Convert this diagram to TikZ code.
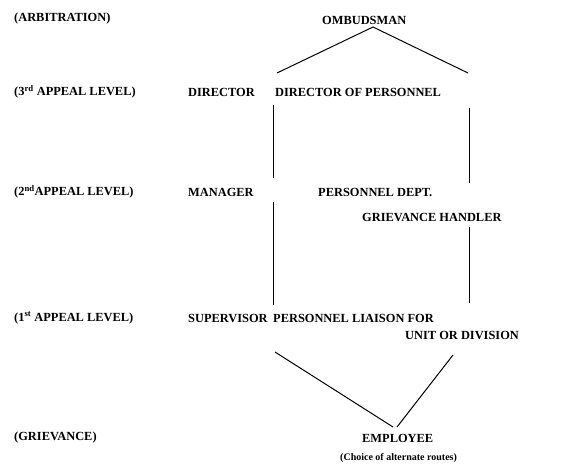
\documentclass[tikz,border=0pt]{standalone}
\usepackage{fontspec}
\setmainfont{Liberation Serif}
\usepackage{tikz}
\usetikzlibrary{positioning}

\begin{document}
\begin{tikzpicture}[x=1pt, y=-1pt,
    level/.style = {anchor=west, inner sep=0pt, font=\bfseries\fontsize{12.4}{14}\selectfont},
    main/.style = {anchor=west, inner sep=0pt, font=\bfseries\fontsize{12.4}{14}\selectfont},
    note/.style = {anchor=west, inner sep=0pt, font=\bfseries\fontsize{10}{12}\selectfont},
    link/.style = {line width=1pt}]
    \useasboundingbox (0,0) rectangle (572,470);

    % levels on the left
    \node[level] (arb) at (14,19) {(ARBITRATION)};
    \node[level] (l3) at (14,92) {(3\textsuperscript{rd} APPEAL LEVEL)};
    \node[level] (l2) at (14,192) {(2\textsuperscript{nd}APPEAL LEVEL)};
    \node[level] (l1) at (14,318) {(1\textsuperscript{st} APPEAL LEVEL)};
    \node[level] (griev) at (14,438) {(GRIEVANCE)};

    % line route
    \node[main] (ombud) at (322,20) {OMBUDSMAN};
    \node[main] (dir) at (188,92) {DIRECTOR};
    \node[main] (mgr) at (188,192) {MANAGER};
    \node[main] (sup) at (188,318) {SUPERVISOR};

    % personnel route
    \node[main] (dirpers) at (275,92) {DIRECTOR OF PERSONNEL};
    \node[main] (pdept) at (318,192) {PERSONNEL DEPT.};
    \node[main] (handler) at (362,217) {GRIEVANCE HANDLER};
    \node[main] (liaison) at (273,318) {PERSONNEL LIAISON FOR};
    \node[main] (unit) at (405,335) {UNIT OR DIVISION};

    \node[main] (emp) at (362,438) {EMPLOYEE};
    \node[note] (choice) at (340,458) {(Choice of alternate routes)};

    \coordinate (top) at (373,27);
    \coordinate (tl) at (277,73);
    \coordinate (tr) at (468,73);
    \coordinate (a1) at (273,105);
    \coordinate (a2) at (273,178);
    \coordinate (a3) at (273,202);
    \coordinate (a4) at (273,305);
    \coordinate (b1) at (469,108);
    \coordinate (b2) at (469,183);
    \coordinate (b3) at (469,227);
    \coordinate (b4) at (469,303);
    \coordinate (c1) at (275,352);
    \coordinate (c2) at (393,427);
    \coordinate (c3) at (397,427);
    \coordinate (c4) at (453,355);

    \draw[link] (tl) -- (top) -- (tr);
    \draw[link] (a1) -- (a2);
    \draw[link] (a3) -- (a4);
    \draw[link] (b1) -- (b2);
    \draw[link] (b3) -- (b4);
    \draw[link] (c1) -- (c2);
    \draw[link] (c3) -- (c4);

\end{tikzpicture}
\end{document}
